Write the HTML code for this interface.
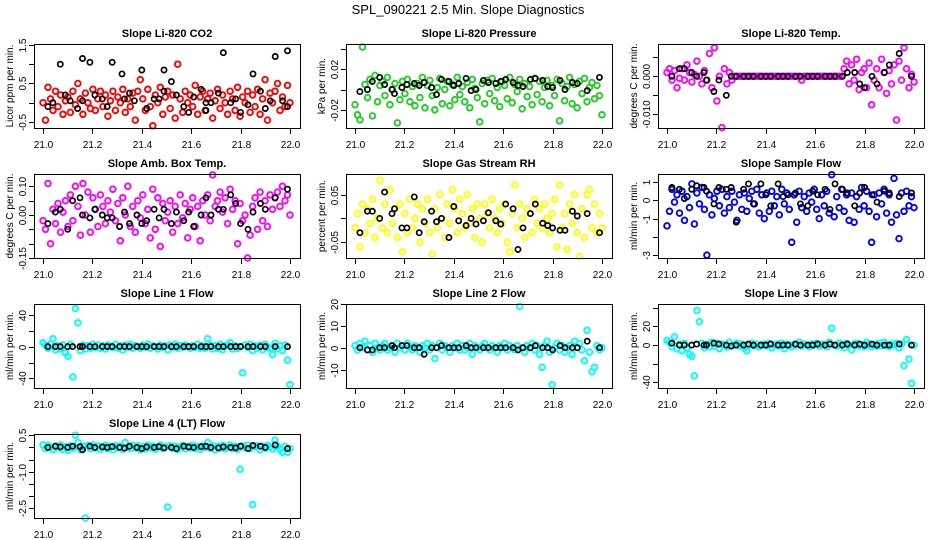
<!DOCTYPE html>
<html><head><meta charset="utf-8"><style>
html,body{margin:0;padding:0;background:#fff;}
svg{display:block;font-family:"Liberation Sans",sans-serif;}
</style></head><body>
<svg id="chart" width="936" height="540" viewBox="0 0 936 540" xmlns="http://www.w3.org/2000/svg">
<rect width="936" height="540" fill="#fff"/>
<text x="468" y="14" text-anchor="middle" font-size="13">SPL_090221  2.5 Min. Slope Diagnostics</text>
</svg>
<script>
const xTicks = [21.0,21.2,21.4,21.6,21.8,22.0];
const xTickLabels = ["21.0","21.2","21.4","21.6","21.8","22.0"];
const blkX = [21.02,21.05,21.07,21.10,21.12,21.15,21.16,21.19,21.21,21.24,21.26,21.28,21.31,21.33,21.35,21.38,21.40,21.42,21.45,21.47,21.49,21.52,21.54,21.57,21.59,21.61,21.64,21.66,21.68,21.71,21.73,21.76,21.78,21.80,21.83,21.85,21.88,21.90,21.94,21.99];
const co2BlackX = [21.02,21.04,21.07,21.09,21.11,21.14,21.16,21.16,21.19,21.21,21.24,21.26,21.28,21.32,21.33,21.35,21.37,21.40,21.42,21.45,21.47,21.49,21.49,21.52,21.54,21.57,21.59,21.61,21.64,21.66,21.66,21.68,21.71,21.73,21.76,21.78,21.80,21.83,21.85,21.88,21.90,21.92,21.94,21.97,21.99,21.99];
const co2BlackY = [-0.1,0.0,1.0,0.2,0.05,-0.15,1.15,0.05,1.05,0.2,0.1,-0.1,1.05,0.75,0.1,0.25,0.05,0.85,-0.15,0.1,0.1,0.85,0.3,0.55,0.2,-0.1,-0.25,0.15,0.35,0.0,-0.2,0.0,0.25,1.3,0.0,0.1,-0.25,-0.05,0.75,0.3,-0.15,0.05,1.2,0.05,-0.1,1.35];
const co2Red = [0.0,-0.45,0.4,0.1,-0.2,0.3,-0.1,0.2,-0.3,0.05,0.15,-0.25,0.3,-0.05,0.5,0.1,-0.3,0.25,0.0,-0.15,0.35,-0.2,0.1,0.3,-0.1,0.2,-0.35,0.05,0.3,-0.2,0.15,0.0,0.35,-0.25,0.1,-0.1,0.25,-0.45,0.3,0.6,0.1,-0.2,0.35,-0.1,-0.6,0.2,0.0,0.4,-0.3,0.15,0.3,-0.15,0.2,-0.4,1.0,0.1,-0.25,0.3,0.0,0.2,-0.1,0.45,-0.3,0.15,0.3,-0.2,0.1,0.25,-0.4,0.05,0.35,-0.15,0.2,0.0,-0.3,0.3,0.1,-0.2,0.4,-0.35,0.15,0.0,0.3,-0.25,0.2,-0.1,0.35,-0.3,0.1,0.6,-0.45,0.25,0.0,0.3,0.5,-0.2,0.15,-0.1,0.45,0.0];
const pressGreen = [-0.015,-0.025,-0.03,0.042,0.005,-0.008,0.01,-0.026,0.014,-0.012,0.004,0.008,-0.006,0.012,-0.015,0.0,0.006,-0.033,-0.01,0.008,-0.004,0.01,-0.012,0.003,-0.016,0.006,-0.008,0.012,-0.018,0.004,0.009,-0.006,-0.02,0.002,0.011,-0.014,0.0,0.008,-0.016,0.005,-0.01,0.012,-0.005,0.003,-0.012,0.007,-0.018,0.01,0.001,-0.008,-0.032,0.006,-0.014,0.009,-0.004,0.011,-0.011,0.002,-0.017,0.008,0.004,-0.009,0.012,-0.013,0.005,-0.002,0.01,-0.019,0.006,-0.007,0.003,-0.015,0.011,-0.005,0.008,-0.012,0.002,0.009,-0.016,0.004,-0.006,0.01,-0.031,0.006,-0.011,0.003,0.012,-0.014,0.005,-0.018,0.008,-0.004,0.011,-0.012,0.002,0.007,-0.009,0.004,-0.006,-0.025];
const pressBlack = [-0.002,0.0,0.008,0.012,0.005,0.0,-0.004,0.002,0.005,0.006,0.004,0.007,0.002,-0.005,0.010,0.008,0.004,0.006,0.011,-0.001,0.0,0.009,0.007,0.006,0.008,0.010,0.007,0.004,0.003,0.010,0.011,0.009,0.003,0.002,0.009,0.0,0.007,0.006,-0.001,0.012];
const tempMag = [0.001,0.002,-0.001,0.0015,-0.003,-0.0005,0.002,-0.001,0.003,0.001,-0.0015,0.0005,0.004,0.0,-0.002,0.0015,-0.001,0.006,-0.003,0.0075,-0.0065,0.0,-0.0135,0.002,-0.002,0.001,-0.001,0,0,0,0,0,0,0,0,0,0,0,0,0,0,0,0,0,0,0,0,0,0,0,0,0,0,0,-0.001,0,0,0,0,0,0,0,0,0,0,0,0,0,0,0,0,0.002,0.004,-0.002,0.003,-0.001,0.0045,-0.0035,0.001,0.002,-0.003,0.0035,-0.0075,-0.001,0.002,-0.003,0.0045,0.001,-0.0045,0.0015,-0.002,0.003,-0.0115,0.004,-0.001,0.0075,0.002,-0.003,0.0005,-0.0015];
const tempBlack = [0.0,0.002,0.002,0.001,0.0,0.001,-0.001,-0.004,-0.001,-0.005,0,0,0,0,0,0,0,0,0,0,0,0,0,0,0,0,0,0,0,0,0.001,0.001,-0.002,-0.003,0.0,-0.002,0.001,0.003,0.006,0.0];
const ambMag = [-0.02,-0.05,0.11,-0.1,0.02,-0.03,0.04,-0.06,0.01,0.05,-0.04,0.07,-0.02,0.1,0.03,-0.07,0.11,0.0,0.08,-0.06,0.06,0.02,-0.04,0.07,0.03,-0.03,0.05,0.01,0.09,-0.02,0.04,-0.09,0.06,0.0,0.1,-0.04,0.03,-0.06,0.05,-0.01,0.07,-0.03,0.02,-0.08,0.09,-0.05,0.06,-0.11,0.04,-0.02,0.01,0.05,-0.06,0.03,-0.03,0.07,-0.01,0.04,-0.08,0.02,0.06,-0.04,0.03,-0.09,0.05,0.0,0.07,-0.02,0.14,0.03,0.05,0.08,0.01,0.06,-0.03,0.09,0.02,0.05,-0.1,0.04,-0.02,0.0,-0.15,-0.07,0.03,0.06,-0.05,0.08,-0.02,0.05,-0.04,0.07,0.02,0.06,0.08,0.03,0.1,0.05,0.07,0.0];
const ambBlack = [-0.03,0.01,0.02,-0.05,0.05,0.06,0.0,-0.01,0.02,0.0,-0.01,-0.01,-0.04,0.01,-0.03,0.0,-0.03,-0.02,0.02,-0.01,0.02,-0.03,0.01,-0.02,0.01,-0.04,0.0,0.06,0.0,0.02,0.02,0.07,0.04,-0.03,-0.05,0.01,0.04,0.02,0.06,0.09];
const rhYellow = [-0.02,0.01,-0.06,0.03,-0.03,0.02,-0.01,0.04,-0.04,0.0,0.08,-0.02,0.03,-0.03,0.06,-0.01,0.02,-0.04,0.03,-0.07,0.01,-0.03,0.04,-0.02,0.0,0.03,-0.05,0.02,-0.01,0.04,-0.03,-0.075,0.02,-0.02,0.05,0.0,-0.04,0.03,-0.01,0.06,0.02,-0.03,0.04,0.01,-0.02,0.05,-0.01,0.02,-0.04,0.03,0.0,-0.05,0.03,0.01,-0.02,0.04,0.0,-0.03,0.02,-0.01,0.03,-0.05,-0.07,0.01,0.07,-0.02,0.03,0.0,-0.04,0.02,0.01,-0.03,0.04,-0.01,0.02,-0.02,0.03,0.0,-0.03,0.01,0.04,-0.06,0.07,-0.02,0.01,-0.065,0.03,-0.01,0.05,-0.03,-0.08,0.02,-0.04,0.05,0.06,-0.02,0.03,-0.03,0.01,-0.02];
const rhBlack = [-0.03,0.015,0.015,0.0,0.055,0.01,0.02,-0.02,-0.02,0.045,-0.03,-0.007,0.015,-0.007,0.0,-0.04,0.025,-0.005,-0.015,0.0,-0.012,-0.005,0.012,-0.005,-0.012,0.03,0.02,-0.065,-0.02,0.01,0.03,-0.01,-0.015,-0.02,-0.025,-0.025,0.015,0.005,0.01,-0.03];
const flowBlue = [-1.4,-0.6,0.6,-0.1,0.3,-0.7,0.5,-1.1,0.2,-0.4,0.9,-1.3,0.4,-0.2,0.7,-0.5,-3.0,0.3,-0.8,0.1,0.5,-0.3,0.6,-0.7,0.2,-0.4,0.5,-0.1,-1.1,0.3,-0.5,0.4,-0.6,0.1,0.5,-0.2,0.6,-0.7,0.3,-1.0,0.4,-0.6,0.5,-0.3,0.2,-0.8,0.6,-0.2,0.4,-0.5,-2.3,0.3,-1.2,0.5,-0.4,0.2,-0.6,0.4,-0.1,0.6,-0.5,-1.0,0.3,-0.3,0.5,-0.7,1.4,-0.9,0.2,-0.4,0.6,-0.6,0.3,-1.1,0.4,-1.2,0.2,-0.5,0.7,-0.3,0.5,-0.6,-2.3,0.3,-0.9,0.4,-0.2,0.6,-0.7,0.3,-1.2,1.2,-0.8,-2.1,0.4,-0.6,0.5,-0.3,0.2,-0.4];
const flowBlack = [0.7,0.6,0.1,0.6,0.8,0.7,0.5,-0.2,0.7,0.6,0.7,-1.2,0.6,0.9,-0.2,0.9,0.3,-0.3,0.9,0.2,0.3,0.4,-0.2,-0.3,0.5,0.3,0.6,-0.5,0.9,0.6,0.4,-0.3,0.4,0.7,0.3,-0.1,0.5,0.4,0.2,0.4];
const line1Cyan = [5,2,-2,3,10,-4,1,-3,2,-8,-12,3,-38,48,30,-5,2,-3,1,-2,3,-1,2,-2,1,-3,2,0,-1,3,-2,1,-4,2,-1,3,-2,1,0,-2,2,-1,3,-2,1,0,-3,2,-1,1,-4,2,-1,3,-2,1,-1,2,0,-2,1,-1,3,-2,1,-2,10,2,-3,1,-2,3,-4,1,2,5,-3,1,-2,0,-33,2,-1,3,-5,1,-2,2,-4,3,-1,-2,-10,4,-3,1,-5,2,-17,-48];
const line1Black = [0,0,0,0,0,0,0,0,0,0,0,0,0,0,0,0,0,0,0,0,0,0,0,0,0,0,0,0,0,0,0,0,0,0,0,0,0,0,0,0];
const line2Cyan = [1,-1,2,0,3,-1,1,-2,2,0,-1,1,2,-1,0,1,-2,2,0,1,-1,2,0,-1,1,0,-2,1,0,2,-1,1,-5,0,2,-1,1,0,-2,1,0,2,-1,1,-1,0,2,-3,1,0,-1,1,2,0,-1,1,0,-2,1,0,2,-1,1,0,-1,1,19,0,-2,1,0,2,-1,1,-3,-9,1,3,-2,-17,0,2,-1,1,-2,0,1,-3,3,0,2,-1,-6,8,-2,-11,-9,1,-1,0];
const line2Black = [0,-1,-1,0,0,1,0,1,1,0,0,-3,0,0,1,0,0,0,1,0,0,0,0,0,0,0,0,-1,0,0,1,0,0,-1,1,0,0,0,3,0];
const line3Cyan = [5,3,-2,9,-4,1,-6,2,-3,-10,-12,-33,37,25,2,-3,1,-2,3,-1,2,-4,1,0,-2,3,-1,0,2,-1,1,-3,-6,0,2,-1,1,-2,0,1,-1,2,-3,0,1,-1,2,-4,1,0,-2,1,0,3,-1,1,0,-2,1,0,2,-1,1,0,-2,3,18,0,-1,2,1,-3,2,0,-5,1,2,-1,0,-2,3,1,-2,0,-1,2,-1,3,0,-2,1,0,2,-3,1,-22,6,-15,-41,0];
const line3Black = [2,0,0,0,1,0,0,2,1,0,-1,0,0,1,0,0,0,1,0,0,0,1,0,0,0,1,0,1,0,0,1,0,1,0,1,0,0,0,1,0];
const line4Cyan = [0.1,-0.05,0.08,0.0,-0.1,0.05,-0.02,0.1,-0.08,0.03,-0.12,0.06,-0.04,0.5,0.2,-0.1,0.05,-2.9,0.08,-0.06,0.1,-0.03,0.06,-0.08,0.02,0.09,-0.05,0.04,-0.1,0.07,-0.02,0.05,-0.08,0.2,0.0,-0.05,0.08,-0.03,0.06,-0.1,0.04,-0.06,0.09,-0.02,0.05,-0.08,0.03,0.1,-0.05,0.02,-2.45,0.07,-0.04,0.05,-0.09,0.02,0.08,-0.06,0.04,-0.02,0.09,-0.05,0.03,-0.08,0.06,0.0,0.2,-0.04,0.07,-0.1,0.05,-0.03,0.08,-0.06,0.02,0.1,-0.05,0.04,-0.08,-0.9,0.06,-0.02,0.09,-0.05,-2.35,0.03,0.07,-0.1,0.05,-0.04,0.08,0.02,-0.06,0.3,0.05,-0.08,-0.2,0.04,-0.2,-0.05];
const line4Black = [0.0,0.05,0.02,0.0,0.05,0.03,-0.1,0.05,0.0,0.02,0.0,0.03,0.0,-0.03,0.05,0.0,-0.05,0.02,0.0,0.03,-0.02,0.0,-0.05,0.05,0.02,0.0,0.03,0.05,0.0,-0.02,0.02,0.0,-0.02,0.05,-0.05,0.08,0.05,0.0,0.1,-0.05];

const panels = [
 {name:"co2",title:"Slope Li-820 CO2",ylab:"Licor ppm per min.",col:0,row:0,ymax:1.526,ymin:-0.656,ticks:[-0.5,0,0.5,1,1.5],labels:["-0.5","","0.5","","1.5"],color:"#ff0000",series:co2Red,bx:co2BlackX,by:co2BlackY},
 {name:"pressure",title:"Slope Li-820 Pressure",ylab:"kPa per min.",col:1,row:0,ymax:0.045,ymin:-0.038,ticks:[-0.02,0,0.02,0.04],labels:["-0.02","","0.02",""],color:"#22cc22",series:pressGreen,bx:blkX,by:pressBlack},
 {name:"temp",title:"Slope Li-820 Temp.",ylab:"degrees C per min.",col:2,row:0,ymax:0.0085,ymin:-0.0136,ticks:[-0.01,-0.005,0,0.005],labels:["-0.010","","0.000",""],color:"#ff00ff",series:tempMag,bx:blkX,by:tempBlack},
 {name:"amb-temp",title:"Slope Amb. Box Temp.",ylab:"degrees C per min.",col:0,row:1,ymax:0.143,ymin:-0.15,ticks:[-0.15,-0.1,-0.05,0,0.05,0.1],labels:["-0.15","","","0.00","","0.10"],color:"#ff00ff",series:ambMag,bx:blkX,by:ambBlack},
 {name:"rh",title:"Slope Gas Stream RH",ylab:"percent per min.",col:1,row:1,ymax:0.093,ymin:-0.083,ticks:[-0.05,0,0.05],labels:["-0.05","","0.05"],color:"#ffff00",series:rhYellow,bx:blkX,by:rhBlack},
 {name:"sample-flow",title:"Slope Sample Flow",ylab:"ml/min per min.",col:2,row:1,ymax:1.44,ymin:-3.16,ticks:[-3,-2,-1,0,1],labels:["-3","","-1","0","1"],color:"#0000ff",series:flowBlue,bx:blkX,by:flowBlack},
 {name:"line1",title:"Slope Line 1 Flow",ylab:"ml/min per min.",col:0,row:2,ymax:53.6,ymin:-52,ticks:[-40,-20,0,20,40],labels:["-40","","0","","40"],color:"#00ffff",series:line1Cyan,bx:blkX,by:line1Black},
 {name:"line2",title:"Slope Line 2 Flow",ylab:"ml/min per min.",col:1,row:2,ymax:20.1,ymin:-18.5,ticks:[-10,0,10,20],labels:["-10","0","10","20"],color:"#00ffff",series:line2Cyan,bx:blkX,by:line2Black},
 {name:"line3",title:"Slope Line 3 Flow",ylab:"ml/min per min.",col:2,row:2,ymax:44,ymin:-46,ticks:[-40,-20,0,20,40],labels:["-40","","0","20",""],color:"#00ffff",series:line3Cyan,bx:blkX,by:line3Black},
 {name:"line4",title:"Slope Line 4 (LT) Flow",ylab:"ml/min per min.",col:0,row:3,ymax:0.55,ymin:-2.9,ticks:[-2.5,-2,-1.5,-1,-0.5,0,0.5],labels:["-2.5","","","-1.0","","","0.5"],color:"#00ffff",series:line4Cyan,bx:blkX,by:line4Black}
];

const NS = "http://www.w3.org/2000/svg";
const svg = document.getElementById("chart");
const colLeft = [34,346,658], boxW = 266, rowTop = [44,174,304,434], boxH = 84;
function mk(tag, attrs, parent){ const e=document.createElementNS(NS,tag); for(const k in attrs) e.setAttribute(k,attrs[k]); parent.appendChild(e); return e; }

panels.forEach(p=>{
  const L=colLeft[p.col], T=rowTop[p.row], R=L+boxW, B=T+boxH;
  const xs = v => L+9 + (v-21)*(boxW-19);
  const ys = v => T + (p.ymax-v)/(p.ymax-p.ymin)*boxH;
  const g = mk("g",{},svg);
  
  
  const t = mk("text",{x:(L+R)/2,y:T-7,"text-anchor":"middle","font-size":"11","font-weight":"bold"},g);
  t.textContent = p.title;
  
  
  const n = p.series.length;
  const cg = mk("g",{fill:"none",stroke:p.color,"stroke-width":"1.9"},g);
  
  
  p.series.forEach((v,i)=>{
    const c = mk("circle",{cx:xs(21+i/(n-1)).toFixed(1),cy:ys(v).toFixed(1),r:"2.8"},cg);
    
    
  });
  const bg = mk("g",{fill:"none",stroke:"#000","stroke-width":"1.7"},g);
  
  
  const m = Math.min(p.bx.length,p.by.length);
  for(let i=0;i<m;i++){
    const c = mk("circle",{cx:xs(p.bx[i]).toFixed(1),cy:ys(p.by[i]).toFixed(1),r:"2.6"},bg);
    
    
  }
  const box = mk("rect",{x:L+0.5,y:T+0.5,width:boxW,height:boxH,fill:"none",stroke:"#000","stroke-width":"1"},g);
  
  
  const xa = mk("g",{},g);
  
  
  xTicks.forEach((v,i)=>{
    const x = Math.round(xs(v))+0.5;
    mk("line",{x1:x,x2:x,y1:B+1,y2:B+6,stroke:"#000"},xa);
    const tl = mk("text",{x:x,y:B+20,"text-anchor":"middle","font-size":"10"},xa);
    tl.textContent = xTickLabels[i];
    
    
  });
  const ya = mk("g",{},g);
  
  
  p.ticks.forEach((v,i)=>{
    const y = Math.round(ys(v))+0.5;
    mk("line",{x1:L-5,x2:L,y1:y,y2:y,stroke:"#000"},ya);
    if(p.labels[i]){
      const tl = mk("text",{x:0,y:0,"text-anchor":"middle","font-size":"10",transform:`translate(${L-8},${y}) rotate(-90)`},ya);
      tl.textContent = p.labels[i];
      
      
    }
  });
  const yl = mk("text",{x:0,y:0,"text-anchor":"middle","font-size":"10",transform:`translate(${L-21},${(T+B)/2}) rotate(-90)`},g);
  yl.textContent = p.ylab;
  
  
});
</script>
</body></html>
